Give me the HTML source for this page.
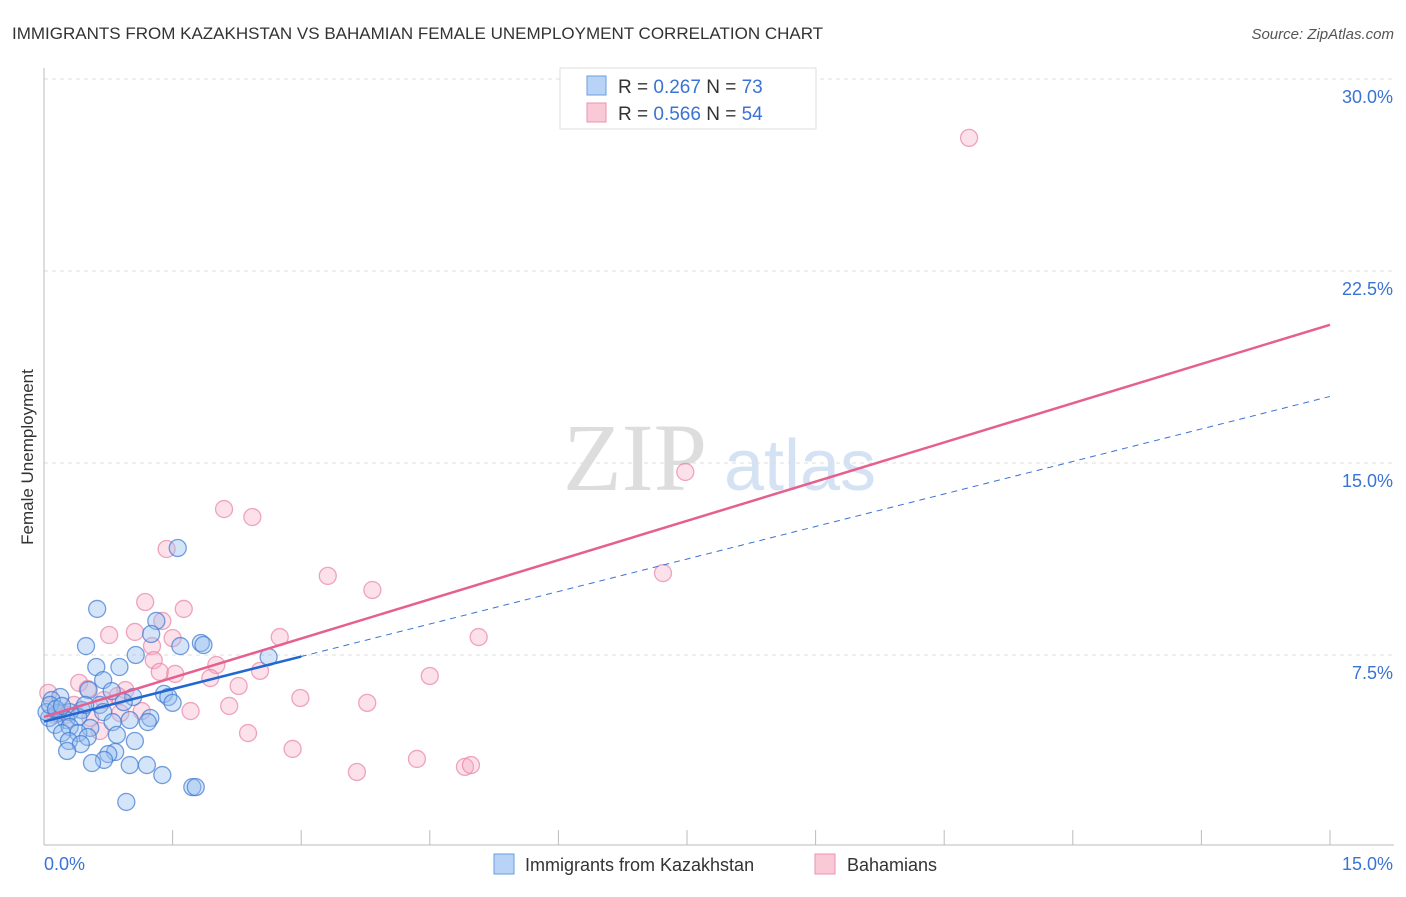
<!DOCTYPE html>
<html><head><meta charset="utf-8"><style>
body{margin:0;background:#fff;font-family:"Liberation Sans",sans-serif}
svg text{font-family:"Liberation Sans",sans-serif}
</style></head><body>
<svg id="chart" width="1406" height="892">
<text x="12" y="39" font-size="17" fill="#333">IMMIGRANTS FROM KAZAKHSTAN VS BAHAMIAN FEMALE UNEMPLOYMENT CORRELATION CHART</text>
<text x="1394" y="39" font-size="15" fill="#555" text-anchor="end" font-style="italic">Source: ZipAtlas.com</text>
<g>
<text x="635" y="490" font-size="96" fill="#ddd" text-anchor="middle" font-family="Liberation Serif" style="font-family:'Liberation Serif',serif">ZIP</text>
<text x="800" y="490" font-size="72" fill="#d4e2f4" text-anchor="middle">atlas</text>
</g>
<g id="grid"></g><g id="axes"></g><g id="marks"></g>
<text transform="translate(33,457) rotate(-90)" font-size="17" fill="#333" text-anchor="middle">Female Unemployment</text>
<g>
<rect x="560" y="68" width="256" height="61" fill="#fff" stroke="#ddd"/>
<rect x="587" y="76" width="19" height="19" fill="#b8d3f5" stroke="#6a9de0"/>
<rect x="587" y="103" width="19" height="19" fill="#f9c9d8" stroke="#eb92b0"/>
<text x="618" y="93" font-size="19" fill="#333">R = <tspan fill="#3a73d4">0.267</tspan>   N = <tspan fill="#3a73d4">73</tspan></text>
<text x="618" y="120" font-size="19" fill="#333">R = <tspan fill="#3a73d4">0.566</tspan>   N = <tspan fill="#3a73d4">54</tspan></text>
</g>
<g>
<rect x="494" y="854" width="20" height="20" fill="#b8d3f5" stroke="#6a9de0"/>
<text x="525" y="871" font-size="18" fill="#333">Immigrants from Kazakhstan</text>
<rect x="815" y="854" width="20" height="20" fill="#f9c9d8" stroke="#eb92b0"/>
<text x="847" y="871" font-size="18" fill="#333">Bahamians</text>
</g>
</svg>
<script>
const xTicks=[0,1.5,3,4.5,6,7.5,9,10.5,12,13.5,15];
const yTicks=[7.5,15,22.5,30];
const yTickLabels=["7.5%","15.0%","22.5%","30.0%"];
const xTickLabels=["0.0%","15.0%"];
const blueX=[1.56,0.62,1.31,0.49,1.25,1.83,1.86,1.59,1.07,2.62,0.61,0.88,0.69,0.52,0.79,1.04,1.40,1.45,1.50,0.19,0.09,0.93,0.65,0.44,0.30,0.16,0.06,0.69,1.24,1.00,1.21,0.80,0.26,0.40,0.13,0.30,0.54,0.21,0.40,0.85,0.51,0.29,1.06,0.43,0.27,0.83,0.75,0.70,0.56,1.00,1.20,1.38,1.73,1.77,0.96,0.03,0.07,0.14,0.48,0.21];
const blueY=[11.68,9.30,8.83,7.85,8.32,7.97,7.89,7.85,7.5,7.42,7.03,7.03,6.52,6.13,6.09,5.86,5.98,5.86,5.63,5.86,5.74,5.66,5.55,5.35,5.27,5.23,5.04,5.27,5.04,4.96,4.88,4.88,4.96,5.08,4.77,4.69,4.65,4.45,4.45,4.38,4.30,4.14,4.14,4.02,3.75,3.71,3.63,3.40,3.28,3.20,3.20,2.81,2.34,2.34,1.76,5.27,5.55,5.39,5.55,5.51];
const pinkX=[10.79,7.48,2.10,2.43,1.43,3.31,3.83,7.22,1.18,1.63,1.38,0.76,1.06,1.50,2.75,5.07,1.26,1.28,2.01,2.52,1.53,1.35,1.94,4.50,2.27,0.41,0.95,0.86,2.99,3.77,2.16,1.14,1.71,0.89,0.35,0.05,0.19,0.54,2.38,2.90,4.35,3.65,4.91,4.98,0.65,0.26,0.51,0.70,0.13];
const pinkY=[27.70,14.65,13.20,12.89,11.64,10.59,10.04,10.70,9.57,9.30,8.83,8.28,8.40,8.16,8.20,8.20,7.85,7.30,7.11,6.88,6.76,6.84,6.60,6.68,6.29,6.41,6.13,5.90,5.82,5.63,5.51,5.31,5.31,5.23,5.55,6.02,5.27,5.04,4.45,3.83,3.44,2.93,3.13,3.20,4.53,5.16,6.17,5.74,5.16];
const blueFit=[4.9,17.6], pinkFit=[5.08,20.4];
const NS="http://www.w3.org/2000/svg";
const X0=44,X1=1330,Y0=847,PY=25.6;
const sx=v=>X0+(X1-X0)*v/15, sy=v=>Y0-v*PY;
function mk(tag,attrs,parent){const e=document.createElementNS(NS,tag);for(const k in attrs)e.setAttribute(k,attrs[k]);parent.appendChild(e);return e;}
const grid=document.getElementById('grid'),axes=document.getElementById('axes'),marks=document.getElementById('marks');
yTicks.forEach((t,i)=>{
 const l=mk('line',{x1:X0,x2:1394,y1:sy(t),y2:sy(t),stroke:'#ddd','stroke-dasharray':'4,4'},grid);
 
 
 const tx=mk('text',{x:1393,y:sy(t)+24,'font-size':18,fill:'#3a73d4','text-anchor':'end'},axes);
 tx.textContent=yTickLabels[i];
 
 
});
const xa=mk('line',{x1:X0,x2:1394,y1:845,y2:845,stroke:'#bbb'},axes);


const ya=mk('line',{x1:X0,x2:X0,y1:68,y2:845,stroke:'#bbb'},axes);


xTicks.forEach(t=>{
 const l=mk('line',{x1:sx(t),x2:sx(t),y1:830,y2:845,stroke:'#bbb'},axes);
 
 
});
const xl0=mk('text',{x:44,y:870,'font-size':18,fill:'#3a73d4'},axes);xl0.textContent=xTickLabels[0];


const xl1=mk('text',{x:1393,y:870,'font-size':18,fill:'#3a73d4','text-anchor':'end'},axes);xl1.textContent=xTickLabels[1];


pinkX.forEach((v,i)=>{
 const c=mk('circle',{cx:sx(v),cy:sy(pinkY[i]),r:8.5,fill:'rgba(247,170,196,0.35)',stroke:'rgba(232,130,165,0.7)','stroke-width':1.3},marks);
 
 
});
blueX.forEach((v,i)=>{
 const c=mk('circle',{cx:sx(v),cy:sy(blueY[i]),r:8.5,fill:'rgba(150,190,240,0.4)',stroke:'rgba(60,120,210,0.7)','stroke-width':1.3},marks);
 
 
});
const bf=v=>blueFit[0]+(blueFit[1]-blueFit[0])*v/15, pf=v=>pinkFit[0]+(pinkFit[1]-pinkFit[0])*v/15;
const bd=mk('line',{x1:sx(2),y1:sy(bf(2)),x2:sx(15),y2:sy(bf(15)),stroke:'#3a73d4','stroke-width':1,'stroke-dasharray':'6,5'},marks);


const pl=mk('line',{x1:sx(0),y1:sy(pf(0)),x2:sx(15),y2:sy(pf(15)),stroke:'#e5608f','stroke-width':2.5},marks);


const bl=mk('line',{x1:sx(0),y1:sy(bf(0)),x2:sx(3),y2:sy(bf(3)),stroke:'#2266d0','stroke-width':2.5},marks);


</script>
</body></html>
